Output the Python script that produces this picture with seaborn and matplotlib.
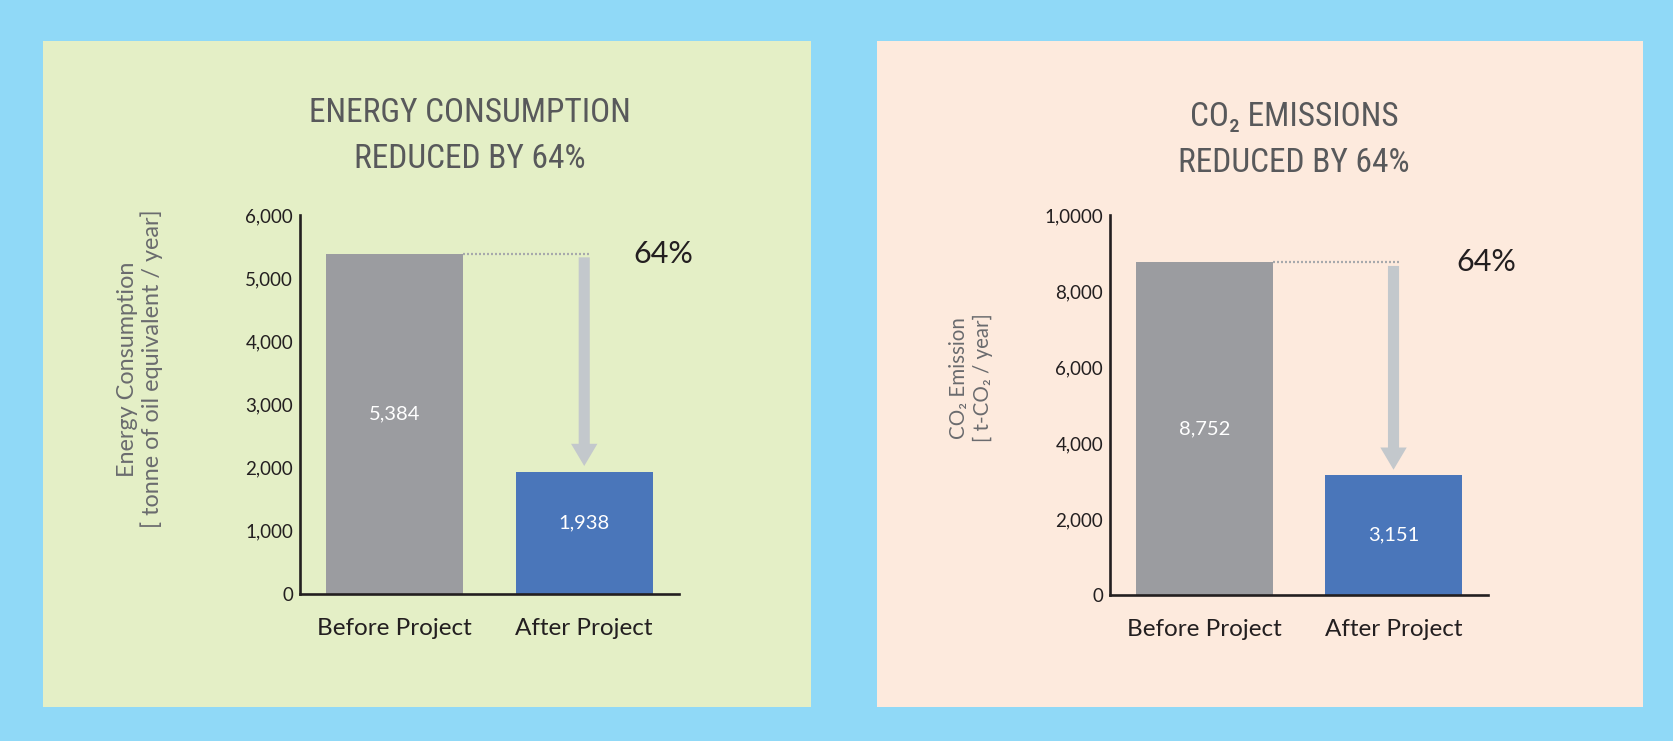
import seaborn as sns
from matplotlib import pyplot as plt
from matplotlib import font_manager
from matplotlib.patches import Rectangle

categories = ["Before Project", "After Project"]

energy_values = [5384, 1938]
energy_bar_labels = ["5,384", "1,938"]
energy_ticks = [0, 1000, 2000, 3000, 4000, 5000, 6000]
energy_tick_labels = ["0", "1,000", "2,000", "3,000", "4,000", "5,000", "6,000"]
energy_title = "ENERGY CONSUMPTION\nREDUCED BY 64%"
energy_ylabel = "Energy Consumption\n[ tonne of oil equivalent / year]"

co2_values = [8752, 3151]
co2_bar_labels = ["8,752", "3,151"]
co2_ticks = [0, 2000, 4000, 6000, 8000, 10000]
co2_tick_labels = ["0", "2,000", "4,000", "6,000", "8,000", "1,0000"]
co2_title = "CO\u2082 EMISSIONS\nREDUCED BY 64%"
co2_ylabel = "CO\u2082 Emission\n[ t-CO\u2082 / year]"

reduction_label = "64%"

bar_colors = ["#9b9ca0", "#4a76ba"]
ink = "#231f20"

# pick a narrow face for the headings if there is one
names = {f.name for f in font_manager.fontManager.ttflist}
title_font = dict(family=["DejaVu Sans"])
for cand in ["Roboto Condensed", "Liberation Sans Narrow", "Open Sans Condensed"]:
    if cand in names:
        title_font = dict(family=[cand, "DejaVu Sans"])
        break
else:
    if any(f.name == "DejaVu Sans" and f.stretch == "condensed" for f in font_manager.fontManager.ttflist):
        title_font = dict(family=["DejaVu Sans"], stretch="condensed")

sns.set_style("white")
plt.rcParams["font.family"] = ["Lato", "DejaVu Sans"]

fig = plt.figure(figsize=(16.74, 7.41), dpi=100)
fig.patch.set_facecolor("#90d9f7")
fig.add_artist(Rectangle((0.0257, 0.0459), 0.4588, 0.8988, transform=fig.transFigure,
                         facecolor="#e4efc6", edgecolor="none", zorder=0))
fig.add_artist(Rectangle((0.5239, 0.0459), 0.4576, 0.8988, transform=fig.transFigure,
                         facecolor="#fdeadd", edgecolor="none", zorder=0))


def panel(rect, values, bar_labels, ticks, tick_labels, title, ylabel,
          title_xy, ylabel_xy, ylabel_size, ylabel_ls, pct_x, label_dy):
    ax = fig.add_axes(rect)
    ax.set_facecolor("none")
    sns.barplot(x=categories, y=values, hue=categories, palette=bar_colors,
                saturation=1, width=0.725, legend=False, linewidth=0, ax=ax)
    ax.set_xlim(-0.5, 1.5)
    ax.set_ylim(0, ticks[-1])
    sns.despine(ax=ax)
    for s in ["left", "bottom"]:
        ax.spines[s].set_linewidth(1.9)
        ax.spines[s].set_color(ink)

    ax.set_yticks(ticks, tick_labels)
    ax.tick_params(axis="y", direction="in", length=6.5, width=1.9, color=ink,
                   pad=5, labelsize=13.5, labelcolor=ink)
    ax.set_xticks([0, 1], categories)
    ax.set_xticks([0.5, 1.5], minor=True)
    ax.tick_params(axis="x", which="major", length=0, pad=17.5, labelsize=17.5, labelcolor=ink)
    ax.tick_params(axis="x", which="minor", direction="in", length=6.5, width=1.9, color=ink)
    ax.set_xlabel("")

    ax.set_ylabel(ylabel, fontsize=ylabel_size, color="#6a6b6e", ha="center", va="center",
                  linespacing=ylabel_ls)
    ax.yaxis.set_label_coords(*ylabel_xy)

    # va=baseline sits on the last line of the two
    ax.text(*title_xy, title, transform=ax.transAxes, ha="center", va="baseline",
            fontsize=24, color="#58595b", linespacing=1.55, **title_font)

    for i, (v, lab) in enumerate(zip(values, bar_labels)):
        ax.annotate(lab, (i, v / 2), xytext=(0, label_dy), textcoords="offset points",
                    ha="center", va="center", color="white", fontsize=14.5)

    before, after = values
    ax.hlines(before, 0.3625, 1.03, colors="#a7a9ac", linewidth=1.6,
              linestyles=(0, (0.9, 0.9)))
    ax.annotate("", xy=(1, after), xytext=(1, before),
                arrowprops=dict(arrowstyle="simple,head_length=16,head_width=19,tail_width=8",
                                mutation_scale=1, shrinkA=2.5, shrinkB=4,
                                color="#c3c8cc", lw=0))
    ax.annotate(reduction_label, (pct_x, before), xytext=(0, -6.5), textcoords="offset points",
                ha="left", va="baseline", fontsize=22, color=ink)
    return ax


panel([0.1792, 0.1984, 0.2264, 0.5115], energy_values, energy_bar_labels,
      energy_ticks, energy_tick_labels, energy_title, energy_ylabel,
      (0.4485, 1.124), (-0.422, 0.594), 16.8, 1.16, 1.26, 7)
panel([0.6631, 0.1970, 0.2258, 0.5128], co2_values, co2_bar_labels,
      co2_ticks, co2_tick_labels, co2_title, co2_ylabel,
      (0.487, 1.114), (-0.367, 0.571), 14.8, 1.25, 1.335, 0)

fig.savefig("out.png", dpi=100, facecolor=fig.get_facecolor())
